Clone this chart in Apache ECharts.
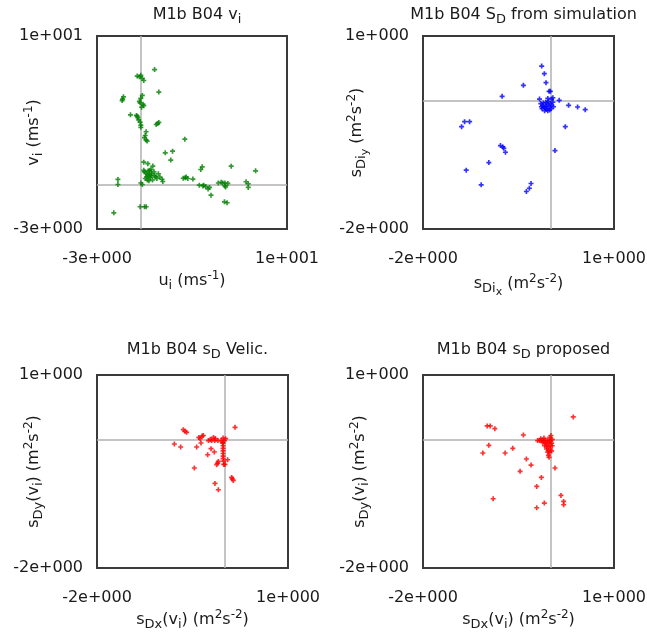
<!DOCTYPE html>
<html>
<head>
<meta charset="utf-8">
<script src="https://cdn.jsdelivr.net/npm/echarts@6/dist/echarts.min.js"></script>
<style>html,body{margin:0;padding:0;background:#fff}#c{width:647px;height:640px}</style>
</head>
<body>
<div id="c"></div>
<script>
// ---- data ----
const titles = [
  '{t|M1b B04 v}{ts|i}',
  '{t|M1b B04 S}{ts|D}{t| from simulation}',
  '{t|M1b B04 s}{ts|D}{t| Velic.}',
  '{t|M1b B04 s}{ts|D}{t| proposed}'
];
const xNames = [
  '{t|u}{ts|i}{t| (ms}{tp|-1}{t|)}',
  '{t|s}{ts|Di}{tss|x}{t| (m}{tp|2}{t|s}{tp|-2}{t|)}',
  '{t|s}{ts|Dx}{t|(v}{ts|i}{t|) (m}{tp|2}{t|s}{tp|-2}{t|)}',
  '{t|s}{ts|Dx}{t|(v}{ts|i}{t|) (m}{tp|2}{t|s}{tp|-2}{t|)}'
];
const yNames = [
  '{t|v}{ts|i}{t| (ms}{tp|-1}{t|)}',
  '{t|s}{ts|Di}{tss|y}{t| (m}{tp|2}{t|s}{tp|-2}{t|)}',
  '{t|s}{ts|Dy}{t|(v}{ts|i}{t|) (m}{tp|2}{t|s}{tp|-2}{t|)}',
  '{t|s}{ts|Dy}{t|(v}{ts|i}{t|) (m}{tp|2}{t|s}{tp|-2}{t|)}'
];
const xTickValues = [[-3, 10], [-2, 1], [-2, 1], [-2, 1]];
const xTickLabels = [['-3e+000', '1e+001'], ['-2e+000', '1e+000'], ['-2e+000', '1e+000'], ['-2e+000', '1e+000']];
const yTickValues = [[-3, 10], [-2, 1], [-2, 1], [-2, 1]];
const yTickLabels = [['-3e+000', '1e+001'], ['-2e+000', '1e+000'], ['-2e+000', '1e+000'], ['-2e+000', '1e+000']];

const viPoints = [
  [0.94,7.74],[-0.25,7.3],[-0.1,7.25],[0.1,7.15],[0.2,7.0],[0.0,7.35],
  [1.23,6.22],
  [-1.19,5.9],[-1.25,5.75],[-1.28,5.65],
  [0.1,6.0],[0.0,5.8],[-0.1,5.6],[0.15,5.4],[0.2,5.3],[0.05,5.2],[-0.05,5.5],
  [-0.71,4.69],
  [-0.3,4.65],[-0.2,4.5],[-0.15,4.35],[-0.05,4.2],[0.0,4.0],[0.0,3.85],[-0.25,4.6],
  [1.05,4.04],[1.23,4.18],[1.15,4.1],
  [0.36,3.55],[0.3,3.3],[0.36,3.0],[0.43,2.92],[0.25,3.15],
  [3.01,3.05],
  [1.67,2.13],[2.17,2.24],[2.05,1.64],
  [0.2,1.5],[0.48,1.4],[0.82,1.24],[0.7,1.0],[0.6,0.95],
  [0.25,0.85],[0.35,0.75],[0.45,0.65],[0.55,0.55],[0.65,0.45],[0.75,0.72],[0.95,0.6],[1.2,0.72],
  [1.45,0.35],[1.5,0.2],[0.45,0.3],[0.3,0.4],[0.5,0.9],[0.8,0.3],[1.0,0.5],[0.6,0.75],[0.4,0.5],
  [0.9,0.85],[1.1,0.4],[0.7,0.6],[0.2,0.95],[1.3,0.5],[0.55,0.25],
  [0.0,0.1],[0.1,0.0],
  [3.03,0.45],[3.21,0.4],[3.56,0.36],[2.9,0.42],[3.1,0.5],
  [4.2,1.19],[4.1,1.01],
  [6.18,1.23],
  [7.85,0.92],
  [4.0,-0.05],[4.25,-0.1],[4.45,-0.15],[4.7,-0.2],[4.6,-0.3],[4.8,-0.72],[4.3,-0.05],
  [5.3,0.1],[5.5,0.15],[5.75,0.1],[5.95,0.07],[5.75,-0.1],[5.8,-0.17],[5.6,0.1],
  [7.2,0.18],[7.35,0.05],[7.35,-0.2],
  [5.72,-1.17],[5.9,-1.23],
  [-1.57,0.34],[-1.57,0.0],
  [-1.85,-1.91],
  [-0.05,-1.5],[0.25,-1.5],[0.36,-1.5]
];
const sdSimPoints = [
  [-0.136,0.533],[-0.094,0.414],[-0.068,0.274],[-0.423,0.233],[-0.757,0.062],[0.0,0.14],[-0.02,0.14],
  [-0.17,0.02],[-0.04,0.03],[0.04,0.04],[0.14,0.0],[0.02,0.02],
  [-0.15,-0.05],[-0.12,-0.08],[-0.1,-0.1],[-0.08,-0.12],[-0.06,-0.14],[-0.04,-0.16],[-0.02,-0.1],
  [0.0,-0.05],[0.02,-0.08],[0.05,-0.1],[-0.13,-0.13],[-0.09,-0.16],[-0.05,-0.06],[-0.07,-0.03],
  [0.01,-0.13],[-0.11,-0.04],[-0.03,-0.02],[0.04,-0.03],[-0.14,-0.1],[-0.06,-0.09],[-0.01,-0.15],
  [0.287,-0.078],[0.428,-0.103],[0.548,-0.145],[0.235,-0.409],
  [-1.347,-0.331],[-1.268,-0.331],[-1.394,-0.409],
  [-0.783,-0.704],[-0.746,-0.724],[-0.73,-0.745],[-0.705,-0.807],
  [0.073,-0.781],[-0.966,-0.967],[-1.321,-1.086],[-1.086,-1.314],
  [-0.303,-1.293],[-0.329,-1.366],[-0.376,-1.417]
];
const sdVelicPoints = [
  [0.168,0.187],[-0.644,0.15],[-0.618,0.125],[-0.592,0.109],[-0.785,-0.073],[-0.686,-0.119],[-0.435,-0.119],
  [-0.4,0.03],[-0.35,0.05],[-0.33,0.06],[-0.38,0.01],[-0.367,-0.057],
  [-0.25,-0.02],[-0.2,-0.02],[-0.15,-0.02],[-0.1,-0.02],[-0.05,-0.02],[0.0,-0.02],[-0.17,0.03],
  [-0.14,0.01],[-0.22,0.0],[0.02,0.01],[-0.02,0.02],
  [-0.02,-0.06],[-0.02,-0.1],[-0.02,-0.14],[-0.02,-0.18],[-0.02,-0.22],[-0.02,-0.26],[-0.02,-0.3],
  [-0.01,-0.34],[-0.01,-0.39],[0.01,-0.39],[-0.03,-0.05],
  [-0.209,-0.145],[-0.157,-0.197],[-0.262,-0.239],[0.052,-0.317],[-0.094,-0.343],[-0.12,-0.394],
  [-0.105,-0.369],[-0.471,-0.446],[0.115,-0.592],[0.141,-0.638],[0.125,-0.615],[-0.147,-0.685],[-0.094,-0.784]
];
const sdPropPoints = [
  [0.36,0.348],[-0.992,0.208],[-0.945,0.208],[-0.872,0.166],[-0.423,0.067],[-0.966,-0.093],[-1.06,-0.213],
  [-0.71,-0.213],[-0.59,-0.14],[-0.376,-0.306],[-0.303,-0.4],[-0.475,-0.498],[0.073,-0.446],[-0.141,-0.592],
  [-0.214,-0.732],[0.167,-0.872],[0.209,-0.965],[0.209,-1.017],[-0.898,-0.924],[-0.094,-0.991],[-0.214,-1.064],
  [-0.2,-0.02],[-0.17,-0.02],[-0.14,-0.02],[-0.11,-0.02],[-0.08,-0.02],[-0.05,-0.02],[-0.02,-0.02],[0.01,-0.02],
  [0.03,0.0],[-0.15,0.01],[-0.1,0.02],[-0.12,-0.05],[-0.08,-0.06],[-0.05,-0.07],[-0.02,-0.05],[0.02,-0.06],
  [-0.09,-0.1],[-0.06,-0.11],[-0.03,-0.12],[0.0,-0.1],[0.03,-0.1],[-0.06,-0.15],[-0.03,-0.17],[0.0,-0.15],
  [-0.04,-0.2],[-0.01,-0.2],[0.02,-0.18],[-0.03,-0.25],[-0.02,-0.28],[0.01,0.06],[-0.01,0.03]
];
const seriesData = [viPoints, sdSimPoints, sdVelicPoints, sdPropPoints];
const seriesColors = ['#008000', '#0000ff', '#ff0000', '#ff0000'];

// ---- layout/styles ----
const FONT = 'DejaVu Sans';
const TXT = '#1a1a1a';
const rich = {
  t: { fontFamily: FONT, fontSize: 16, fontWeight: 'normal', color: TXT },
  ts: { fontFamily: FONT, fontSize: 13, fontWeight: 'normal', color: TXT, padding: [10, 0, 0, 0] },
  tss: { fontFamily: FONT, fontSize: 11, fontWeight: 'normal', color: TXT, padding: [18, 0, 0, 0] },
  tp: { fontFamily: FONT, fontSize: 12, fontWeight: 'normal', color: TXT, padding: [0, 0, 10, 0] }
};
const grids = [
  { left: 97, top: 36, width: 190, height: 193 },
  { left: 423, top: 36, width: 191, height: 193 },
  { left: 97, top: 375, width: 191, height: 193 },
  { left: 423, top: 375, width: 191, height: 193 }
];
const titleTops = [-2, -2, 333, 333];
const plus = 'path://M-1,-3H1V-1H3V1H1V3H-1V1H-3V-1H-1Z';

const option = {
  animation: false,
  backgroundColor: '#fff',
  title: grids.map((g, i) => ({
    text: titles[i],
    left: g.left + g.width / 2,
    top: titleTops[i],
    textAlign: 'center',
    textStyle: { fontWeight: 'normal', rich: rich }
  })),
  grid: grids.map(g => Object.assign({ show: true, borderColor: '#3a3a3a', borderWidth: 2, backgroundColor: 'transparent', containLabel: false, outerBoundsMode: 'none' }, g)),
  xAxis: grids.map((g, i) => ({
    type: 'value', gridIndex: i,
    min: xTickValues[i][0], max: xTickValues[i][1],
    axisLine: { show: false }, axisTick: { show: false }, splitLine: { show: false },
    axisLabel: {
      customValues: xTickValues[i], margin: 22,
      fontFamily: FONT, fontSize: 16, color: TXT,
      formatter: v => (v === xTickValues[i][0] ? xTickLabels[i][0] : xTickLabels[i][1])
    },
    name: xNames[i], nameLocation: 'middle', nameGap: 40, nameMoveOverlap: false,
    nameTextStyle: { rich: rich }
  })),
  yAxis: grids.map((g, i) => ({
    type: 'value', gridIndex: i,
    min: yTickValues[i][0], max: yTickValues[i][1],
    axisLine: { show: false }, axisTick: { show: false }, splitLine: { show: false },
    axisLabel: {
      customValues: yTickValues[i], margin: 14,
      fontFamily: FONT, fontSize: 16, color: TXT,
      formatter: v => (v === yTickValues[i][0] ? yTickLabels[i][0] : yTickLabels[i][1])
    },
    name: yNames[i], nameLocation: 'middle', nameGap: 52, nameMoveOverlap: false,
    nameTextStyle: { rich: rich }
  })),
  series: seriesData.map((d, i) => ({
    type: 'scatter', xAxisIndex: i, yAxisIndex: i,
    data: d, symbol: plus, symbolSize: 5,
    itemStyle: { color: seriesColors[i] },
    markLine: {
      silent: true, symbol: 'none', z: 1,
      label: { show: false },
      lineStyle: { color: '#b0b0b0', width: 1.5, type: 'solid' },
      data: [{ xAxis: 0 }, { yAxis: 0 }]
    }
  }))
};
const chart = echarts.init(document.getElementById('c'), null, { renderer: 'canvas' });
chart.setOption(option);
</script>
</body>
</html>
